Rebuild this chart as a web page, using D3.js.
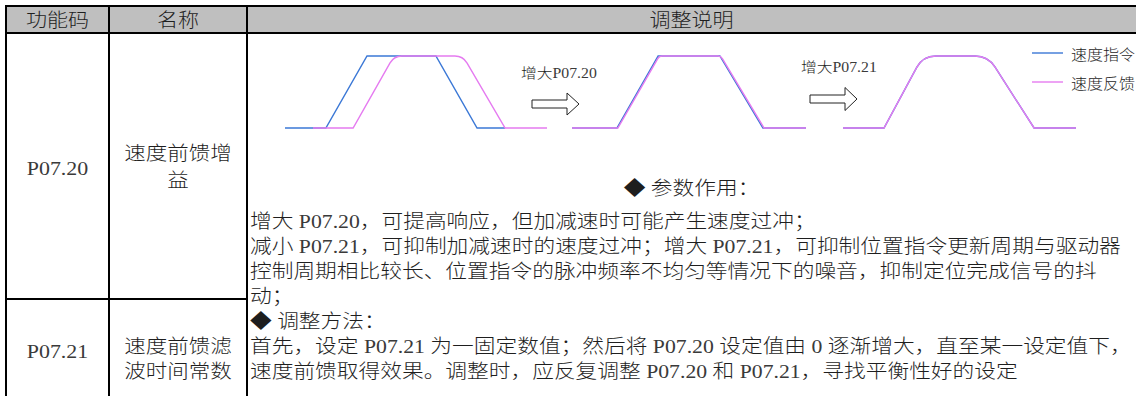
<!DOCTYPE html>
<html><head><meta charset="utf-8">
<script src="https://cdn.jsdelivr.net/npm/d3@7"></script>
<style>html,body{margin:0;padding:0;background:#fff;overflow:hidden}</style>
</head><body><svg id="c" width="1136" height="396"></svg>
<script>
// ---------- data ----------
const headers = ["功能码", "名称", "调整说明"];
const codes = ["P07.20", "P07.21"];
const names = [["速度前馈增", "益"], ["速度前馈滤", "波时间常数"]];
const bodyTitle1 = "◆ 参数作用：";
const bodyLines = [
  "增大 P07.20，可提高响应，但加减速时可能产生速度过冲；",
  "减小 P07.21，可抑制加减速时的速度过冲；增大 P07.21，可抑制位置指令更新周期与驱动器",
  "控制周期相比较长、位置指令的脉冲频率不均匀等情况下的噪音，抑制定位完成信号的抖",
  "动；",
  "◆ 调整方法：",
  "首先，设定 P07.21 为一固定数值；然后将 P07.20 设定值由 0 逐渐增大，直至某一设定值下，",
  "速度前馈取得效果。调整时，应反复调整 P07.20 和 P07.21，寻找平衡性好的设定"
];
const seriesNames = ["速度指令", "速度反馈"];
const panelLabels = ["增大P07.20", "增大P07.21"];

// time (arbitrary units, 0..100 per panel) and normalized speed (0..1)
const cmdT1 = [0, 15.6, 31.3, 57.6, 73.3, 84];
const cmdV1 = [0, 0, 1, 1, 0, 0];
const fbT1  = [10.7, 26, 41.6, 67.9, 84, 100];
const fbV1  = [0, 0, 1, 1, 0, 0];

const cmdT2 = [0, 19.2, 36.8, 63.2, 81.6, 100];
const cmdV2 = [0, 0, 1, 1, 0, 0];
const fbT2  = [0, 19.6, 37.3, 63.6, 82.1, 100];
const fbV2  = [0, 0, 1, 1, 0, 0];

const cmdT3 = [0, 17.6, 34.3, 62.2, 82, 100];
const cmdV3 = [0, 0, 1, 1, 0, 0];
const fbT3  = [0, 17.6, 34.3, 62.2, 82, 100];
const fbV3  = [0, 0, 1, 1, 0, 0];

// ---------- layout / style ----------
const W = 1136, H = 396;
const SX = 1.12;                 // horizontal glyph stretch of the source
const colX = [6, 109, 247];
const headTop = 6, headBot = 33, rowDiv = 299;
const BLUE = "#3b78d6", PINK = "#e57bf0";
const LATIN = "'Liberation Serif','Times New Roman',serif";
const HAN = "'Noto Sans CJK SC','Noto Sans CJK JP',sans-serif";

const svg = d3.select("#c");
svg.append("rect").attr("width", W).attr("height", H).attr("fill", "#fff");
svg.append("rect").attr("x", colX[0]).attr("y", headTop).attr("width", W - colX[0]).attr("height", headBot - headTop).attr("fill", "#bfbfbf");

function addRuns(parent, str) {
  const runs = str.match(/[\x20-\x7e]+|[^\x20-\x7e]+/g) || [];
  runs.forEach(r => {
    const latin = /^[\x20-\x7e]+$/.test(r);
    parent.append("tspan").style("font-family", latin ? LATIN : HAN)
      .style("font-weight", latin ? 400 : 300)
      .attr("fill", latin ? "#3a3a3a" : "#1e1e1e")
      .attr("xml:space", "preserve").style("white-space", "pre").text(r);
  });
}
// multi-line text block: lines = [string], ys = baselines
function block(x, ys, lines, size, anchor) {
  const t = svg.append("text")
    .attr("transform", `translate(${x},0) scale(${SX},1)`)
    .attr("text-anchor", anchor || "start")
    .style("font-size", size + "px");
  lines.forEach((l, i) => {
    const ln = t.append("tspan").attr("x", 0).attr("y", ys[i]);
    addRuns(ln, l);
  });
  return t;
}
const stext = (x, y, str, size, anchor) => block(x, [y], [str], size, anchor);

// borders
const lineG = svg.append("g").attr("stroke", "#000").attr("stroke-width", 2);
lineG.append("line").attr("x1", colX[0] - 1).attr("x2", W).attr("y1", headTop).attr("y2", headTop);
lineG.append("line").attr("x1", colX[0] - 1).attr("x2", W).attr("y1", headBot).attr("y2", headBot);
lineG.append("line").attr("x1", colX[0] - 1).attr("x2", colX[2]).attr("y1", rowDiv).attr("y2", rowDiv);
colX.forEach(x => lineG.append("line").attr("x1", x).attr("x2", x).attr("y1", headTop - 1).attr("y2", H));

// header
const headCx = [(colX[0] + colX[1]) / 2, (colX[1] + colX[2]) / 2, (colX[2] + W) / 2];
headers.forEach((h, i) => stext(headCx[i], 27, h, 18.8, "middle"));

// first two columns
const codeY = [175, 358];
const nameY = [[160, 187], [353, 378]];
codes.forEach((c, i) => {
  stext(headCx[0], codeY[i], c, 19.6, "middle");
  block(headCx[1], nameY[i], names[i], 19.2, "middle");
});

// body text
stext(headCx[2], 195, bodyTitle1, 19.4, "middle");
const bodyY = [228, 253, 278, 303, 328, 353, 378];
block(250, bodyY, bodyLines, 19.4, "start");

// ---------- diagrams ----------
const y = d3.scaleLinear().domain([0, 1]).range([128, 56]);
const panels = [
  { range: [285, 547], cmd: [cmdT1, cmdV1], fb: [fbT1, fbV1], r: 8 },
  { range: [572, 806], cmd: [cmdT2, cmdV2], fb: [fbT2, fbV2], r: 3 },
  { range: [843, 1076], cmd: [cmdT3, cmdV3], fb: [fbT3, fbV3], r: 13 }
];

// path with rounded corners at the top (value 1) vertices
function roundedPath(pts, vals, r) {
  const p = d3.path();
  p.moveTo(pts[0][0], pts[0][1]);
  for (let i = 1; i < pts.length - 1; i++) {
    const [x, yy] = pts[i];
    if (r > 0 && vals[i] === 1) {
      const a = pts[i - 1], b = pts[i + 1];
      const la = Math.hypot(x - a[0], yy - a[1]), lb = Math.hypot(b[0] - x, b[1] - yy);
      const ra = Math.min(r, la / 2), rb = Math.min(r, lb / 2);
      p.lineTo(x - (x - a[0]) / la * ra, yy - (yy - a[1]) / la * ra);
      p.quadraticCurveTo(x, yy, x + (b[0] - x) / lb * rb, yy + (b[1] - yy) / lb * rb);
    } else p.lineTo(x, yy);
  }
  const last = pts[pts.length - 1];
  p.lineTo(last[0], last[1]);
  return p.toString();
}

panels.forEach((pn, k) => {
  const x = d3.scaleLinear().domain([0, 100]).range(pn.range);
  const cmdPts = pn.cmd[0].map((t, i) => [x(t), y(pn.cmd[1][i])]);
  const fbPts = pn.fb[0].map((t, i) => [x(t), y(pn.fb[1][i])]);
  const cmdR = k === 2 ? pn.r : 0;
  svg.append("path").attr("d", roundedPath(cmdPts, pn.cmd[1], cmdR))
    .attr("fill", "none").attr("stroke", BLUE).attr("stroke-width", 1.4);
  svg.append("path").attr("d", roundedPath(fbPts, pn.fb[1], pn.r))
    .attr("fill", "none").attr("stroke", PINK).attr("stroke-width", 1.4);
});

// labels and hollow arrows between panels
stext(521, 78, panelLabels[0], 14.1, "start");
stext(801, 72, panelLabels[1], 14.1, "start");
function arrow(x0, yc, bodyLen, bodyH, headLen, headH) {
  const x1 = x0 + bodyLen, x2 = x1 + headLen;
  const pts = [[x0, yc - bodyH / 2], [x1, yc - bodyH / 2], [x1, yc - headH / 2], [x2, yc],
               [x1, yc + headH / 2], [x1, yc + bodyH / 2], [x0, yc + bodyH / 2]];
  svg.append("path").attr("d", d3.line()(pts) + "Z")
    .attr("fill", "#fff").attr("stroke", "#222").attr("stroke-width", 1);
}
arrow(532, 104, 35, 8, 12, 22);
arrow(810, 99, 35, 8, 12, 23);

// legend
const legY = [53, 82];
[BLUE, PINK].forEach((c, i) => {
  svg.append("line").attr("x1", 1032).attr("x2", 1063).attr("y1", legY[i]).attr("y2", legY[i])
    .attr("stroke", c).attr("stroke-width", 1.4);
  stext(1071, legY[i] + 7, seriesNames[i], 14.3, "start");
});
</script></body></html>
